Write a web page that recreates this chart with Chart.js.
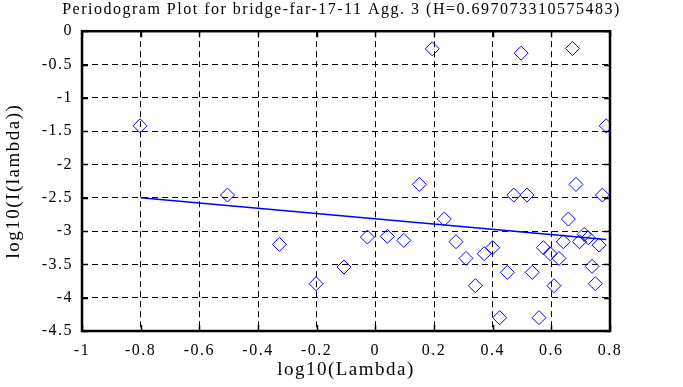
<!DOCTYPE html>
<html>
<head>
<meta charset="utf-8">
<script src="https://cdn.jsdelivr.net/npm/chart.js@4"></script>
<style>
  body { margin: 0; background: #fff; }
  #wrap { width: 683px; height: 387px; position: relative; }
</style>
</head>
<body>
<div id="wrap"><canvas id="pgram"></canvas></div>
<script>
// periodogram points, log10(lambda) vs log10(I(lambda))
var logLambda = [-0.802, -0.504, -0.327, -0.202, -0.107, -0.027, 0.041, 0.097, 0.150, 0.194,
                 0.235, 0.275, 0.309, 0.341, 0.371, 0.400, 0.424, 0.450, 0.472, 0.497,
                 0.517, 0.535, 0.558, 0.573, 0.596, 0.609, 0.626, 0.641, 0.658, 0.672,
                 0.684, 0.696, 0.712, 0.726, 0.739, 0.750, 0.763, 0.774, 0.787];
var logI = [-1.42, -2.46, -3.20, -3.79, -3.54, -3.09, -3.08, -3.14, -2.30, -0.265,
            -2.82, -3.16, -3.41, -3.82, -3.34, -3.25, -4.30, -3.62, -2.46, -0.33,
            -2.46, -3.62, -4.30, -3.25, -3.34, -3.82, -3.41, -3.16, -2.82, -0.26,
            -2.30, -3.16, -3.05, -3.10, -3.53, -3.79, -3.21, -2.46, -1.42];
// fitted line endpoints
var fitX = [-0.8, 0.787];
var fitY = [-2.5, -3.125];

var xTicks = [-1, -0.8, -0.6, -0.4, -0.2, 0, 0.2, 0.4, 0.6, 0.8];
var yTicks = [0, -0.5, -1, -1.5, -2, -2.5, -3, -3.5, -4, -4.5];

var serif = "'Liberation Serif', 'DejaVu Serif', serif";

var pts = logLambda.map(function (x, i) { return { x: x, y: logI[i] }; });
var fit = fitX.map(function (x, i) { return { x: x, y: fitY[i] }; });

function fmt(v) { return String(Math.round(v * 10) / 10); }

// the old plot uses widely spaced glyphs
var spacingPlugin = {
  id: 'spacing',
  beforeUpdate: function (chart) { chart.ctx.letterSpacing = '1.5px'; },
  beforeDraw: function (chart) { chart.ctx.letterSpacing = '1.5px'; }
};

// frame + inward tick marks on all four sides
var framePlugin = {
  id: 'frame',
  afterDraw: function (chart) {
    var c = chart.ctx, a = chart.chartArea;
    var xs = chart.scales.x, ys = chart.scales.y;
    c.save();
    c.strokeStyle = '#000';
    c.lineWidth = 1.5;
    xTicks.forEach(function (v) {
      var px = Math.round(xs.getPixelForValue(v)) + 0.5;
      c.beginPath();
      c.moveTo(px, a.top); c.lineTo(px, a.top + 6);
      c.moveTo(px, a.bottom); c.lineTo(px, a.bottom - 6);
      c.stroke();
    });
    yTicks.forEach(function (v) {
      var py = Math.round(ys.getPixelForValue(v)) + 0.5;
      c.beginPath();
      c.moveTo(a.left, py); c.lineTo(a.left + 6, py);
      c.moveTo(a.right, py); c.lineTo(a.right - 6, py);
      c.stroke();
    });
    c.lineWidth = 2.5;
    c.strokeRect(a.left, a.top, a.right - a.left, a.bottom - a.top);
    c.restore();
  }
};

new Chart(document.getElementById('pgram'), {
  type: 'scatter',
  data: {
    datasets: [{
      label: 'periodogram',
      data: pts,
      pointStyle: 'rectRot',
      pointRadius: 7,
      pointHoverRadius: 7,
      pointBorderWidth: 1,
      pointBorderColor: '#0000ff',
      pointBackgroundColor: 'rgba(0,0,0,0)',
      showLine: false
    }, {
      type: 'line',
      label: 'fit',
      data: fit,
      borderColor: '#0000ff',
      borderWidth: 1.5,
      pointRadius: 0,
      fill: false
    }]
  },
  options: {
    responsive: true,
    maintainAspectRatio: false,
    animation: false,
    layout: { padding: 0 },
    plugins: {
      legend: { display: false },
      tooltip: { enabled: false },
      title: {
        display: true,
        text: 'Periodogram Plot for bridge-far-17-11 Agg. 3 (H=0.697073310575483)',
        color: '#000',
        font: { family: serif, size: 16, weight: 'normal' },
        padding: { top: 0, bottom: 12 }
      }
    },
    scales: {
      x: {
        type: 'linear',
        min: -1, max: 0.8,
        afterFit: function (s) { s.height = 56; },
        afterBuildTicks: function (s) { s.ticks = xTicks.map(function (v) { return { value: v }; }); },
        ticks: { color: '#000', font: { family: serif, size: 16 }, padding: 10, maxRotation: 0, callback: fmt },
        grid: { color: '#000', lineWidth: 1, drawTicks: false },
        border: { display: false, dash: [6, 4] },
        title: { display: true, text: 'log10(Lambda)', color: '#000', font: { family: serif, size: 19 }, padding: { top: 0, bottom: 6 } }
      },
      y: {
        type: 'linear',
        min: -4.5, max: 0,
        afterFit: function (s) { s.width = 82; },
        afterBuildTicks: function (s) { s.ticks = yTicks.map(function (v) { return { value: v }; }); },
        ticks: { color: '#000', font: { family: serif, size: 16 }, padding: 9, callback: fmt },
        grid: { color: '#000', lineWidth: 1, drawTicks: false },
        border: { display: false, dash: [6, 4] },
        title: { display: true, text: 'log10(I(lambda))', color: '#000', font: { family: serif, size: 19 }, padding: { top: 3, bottom: 0 } }
      },
      // empty strip on the right so the title stays centred on the page
      yRight: {
        type: 'linear',
        position: 'right',
        min: -4.5, max: 0,
        afterFit: function (s) { s.width = 73; },
        ticks: { display: false },
        grid: { display: false },
        border: { display: false }
      }
    }
  },
  plugins: [spacingPlugin, framePlugin]
});
</script>
</body>
</html>
